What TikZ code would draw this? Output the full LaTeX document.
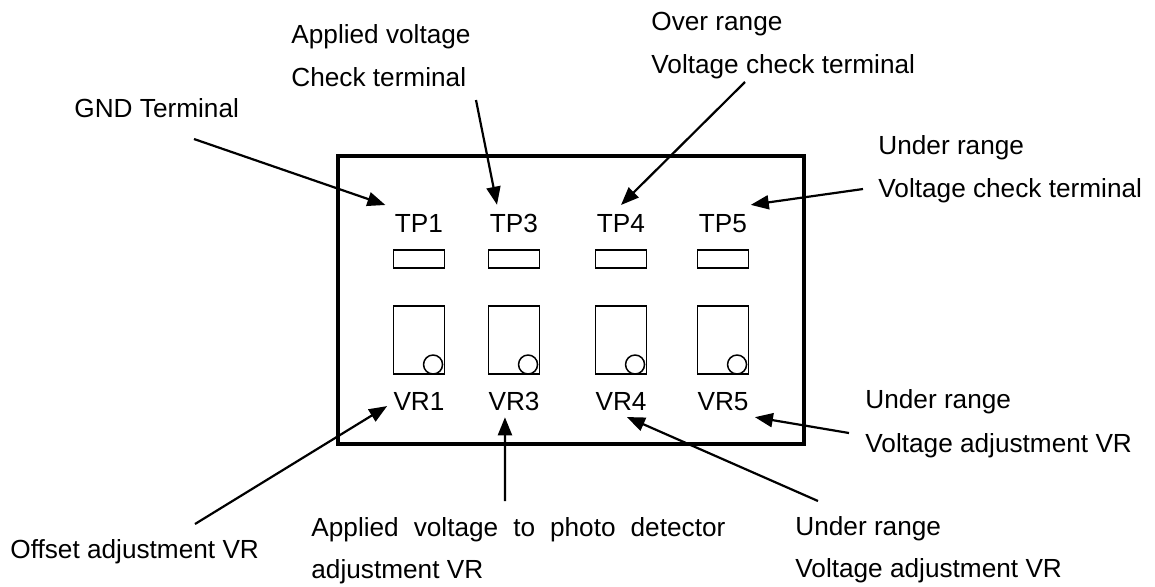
\documentclass[tikz,border=0pt]{standalone}
\usepackage{fontspec}
\setmainfont{Liberation Sans}
\usepackage{tikz}
\usetikzlibrary{positioning, arrows.meta, calc}

\begin{document}
\begin{tikzpicture}[x=0.5pt, y=-0.5pt,
  font=\fontsize{13.1}{15}\selectfont,
  txt/.style={anchor=base west, inner sep=0pt},
  tplabel/.style={inner sep=4.6pt},
  vrlabel/.style={inner sep=3pt},
  tpbox/.style={draw, line width=0.75pt, minimum width=25.3pt, minimum height=9pt, inner sep=0pt},
  vrbox/.style={draw, line width=0.75pt, minimum width=25.3pt, minimum height=34pt, inner sep=0pt},
  knob/.style={draw, circle, line width=0.75pt, minimum size=9.5pt, inner sep=0pt, anchor=south},
  arr/.style={-{Triangle[length=9pt,width=7pt]}, line width=1.1pt}]

  \useasboundingbox (0,0) rectangle (1155,586);

  % --- Board outline ---
  \draw[line width=2.35pt] (338,156) rectangle (804,444);

  % --- Test points and adjusters ---
  \foreach \i/\x in {1/419, 3/514, 4/621, 5/723}{
    \node[tplabel] (tp\i) at (\x,223.6) {TP\i};
    \node[tpbox] (tpb\i) at (\x,259) {};
    \node[vrbox] (vrb\i) at (\x,340) {};
    \node[knob] (knob\i) at ([xshift=-6pt]vrb\i.south east) {};
    \node[vrlabel] (vr\i) at (\x,401.6) {VR\i};
  }

  % --- Upper labels ---
  \node[txt] (gnd) at (74,117) {GND Terminal};
  \node[txt] (chkA) at (291,43) {Applied voltage};
  \node[txt] (chkB) at (291,86) {Check terminal};
  \node[txt] (ovrA) at (651,30) {Over range};
  \node[txt] (ovrB) at (651,73) {Voltage check terminal};
  \node[txt] (undA) at (878,154) {Under range};
  \node[txt] (undB) at (878,197) {Voltage check terminal};

  % --- Lower labels ---
  \node[txt] (offs) at (10,558) {Offset adjustment VR};
  \node[txt] (pdA) at (311,536) {\makebox[207pt][s]{Applied voltage to photo detector}};
  \node[txt] (pdB) at (311,578) {adjustment VR};
  \node[txt] (uadjA) at (795,535) {Under range};
  \node[txt] (uadjB) at (795,577) {Voltage adjustment VR};
  \node[txt] (vadjA) at (865,408) {Under range};
  \node[txt] (vadjB) at (865,452) {Voltage adjustment VR};

  % --- Arrow start points ---
  \coordinate (gndS) at (194,139);
  \coordinate (chkS) at (476,100);
  \coordinate (ovrS) at (745,82);
  \coordinate (undS) at (863,189);
  \coordinate (offS) at (195,524);
  \coordinate (pdS) at (505,501);
  \coordinate (uadjS) at (818,501);
  \coordinate (vadjS) at (849,433);

  % --- Arrows ---
  \draw[arr] (gndS) -- (tp1.north west);
  \draw[arr] (chkS) -- (tp3.132);
  \draw[arr] (ovrS) -- (tp4.north);
  \draw[arr] (undS) -- (tp5.34);
  \draw[arr] (offS) -- (vr1.188);
  \draw[arr] (pdS) -- (vr3.240);
  \draw[arr] (uadjS) -- (vr4.-69);
  \draw[arr] (vadjS) -- (vr5.south east);

\end{tikzpicture}
\end{document}
